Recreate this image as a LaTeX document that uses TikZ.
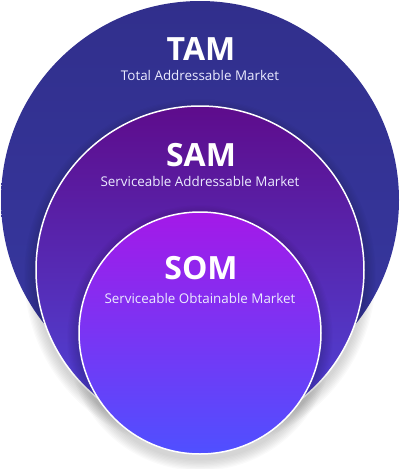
\documentclass[tikz,border=0pt]{standalone}
\usepackage{fontspec}
\setmainfont{Open Sans}
\usetikzlibrary{calc}
\definecolor{tamtop}{HTML}{312F8C}
\definecolor{tambot}{HTML}{3838A2}
\definecolor{samtop}{HTML}{5E0C8C}
\definecolor{sambot}{HTML}{4E48DC}
\definecolor{somtop}{HTML}{A419E8}
\definecolor{sombot}{HTML}{4F50FF}
\def\softshadow(#1)(#2){\foreach \k in {1,...,9}{\fill[black,opacity=0.018] ($(#1)+(0,5)$) circle ({#2+\k*1.3pt});}}
\tikzset{
  ring/.style={draw=white, line width=1.5pt},
  bigtxt/.style={text=white, font=\bfseries\fontsize{32}{36}\selectfont, anchor=base, inner sep=0pt},
  smalltxt/.style={text=white!92!blue, font=\fontsize{13.4}{15}\selectfont, anchor=base, inner sep=0pt}
}

\begin{document}
\begin{tikzpicture}[x=1pt, y=-1pt]
		%%%%% START %%%%%
		\useasboundingbox (0,0) rectangle (400,469);
		
		\shade[top color=tamtop, bottom color=tambot] (200,200) circle (199pt);
		
		\softshadow(200,270)(164pt)
		\shade[ring, top color=samtop, bottom color=sambot] (200,270) circle (164pt);
		
		\softshadow(200,333)(121pt)
		\shade[ring, top color=somtop, bottom color=sombot] (200,333) circle (121pt);
		
		\node[bigtxt] (tam) at (201,60) {TAM};
		\node[smalltxt] (tamsub) at (200,80) {Total Addressable Market};
		
		\node[bigtxt] (sam) at (201,166) {SAM};
		\node[smalltxt] (samsub) at (200,186) {Serviceable Addressable Market};
		
		\node[bigtxt] (som) at (201,279) {SOM};
		\node[smalltxt] (somsub) at (200,303) {Serviceable Obtainable Market};
		%%%%% END %%%%%
\end{tikzpicture}
\end{document}
